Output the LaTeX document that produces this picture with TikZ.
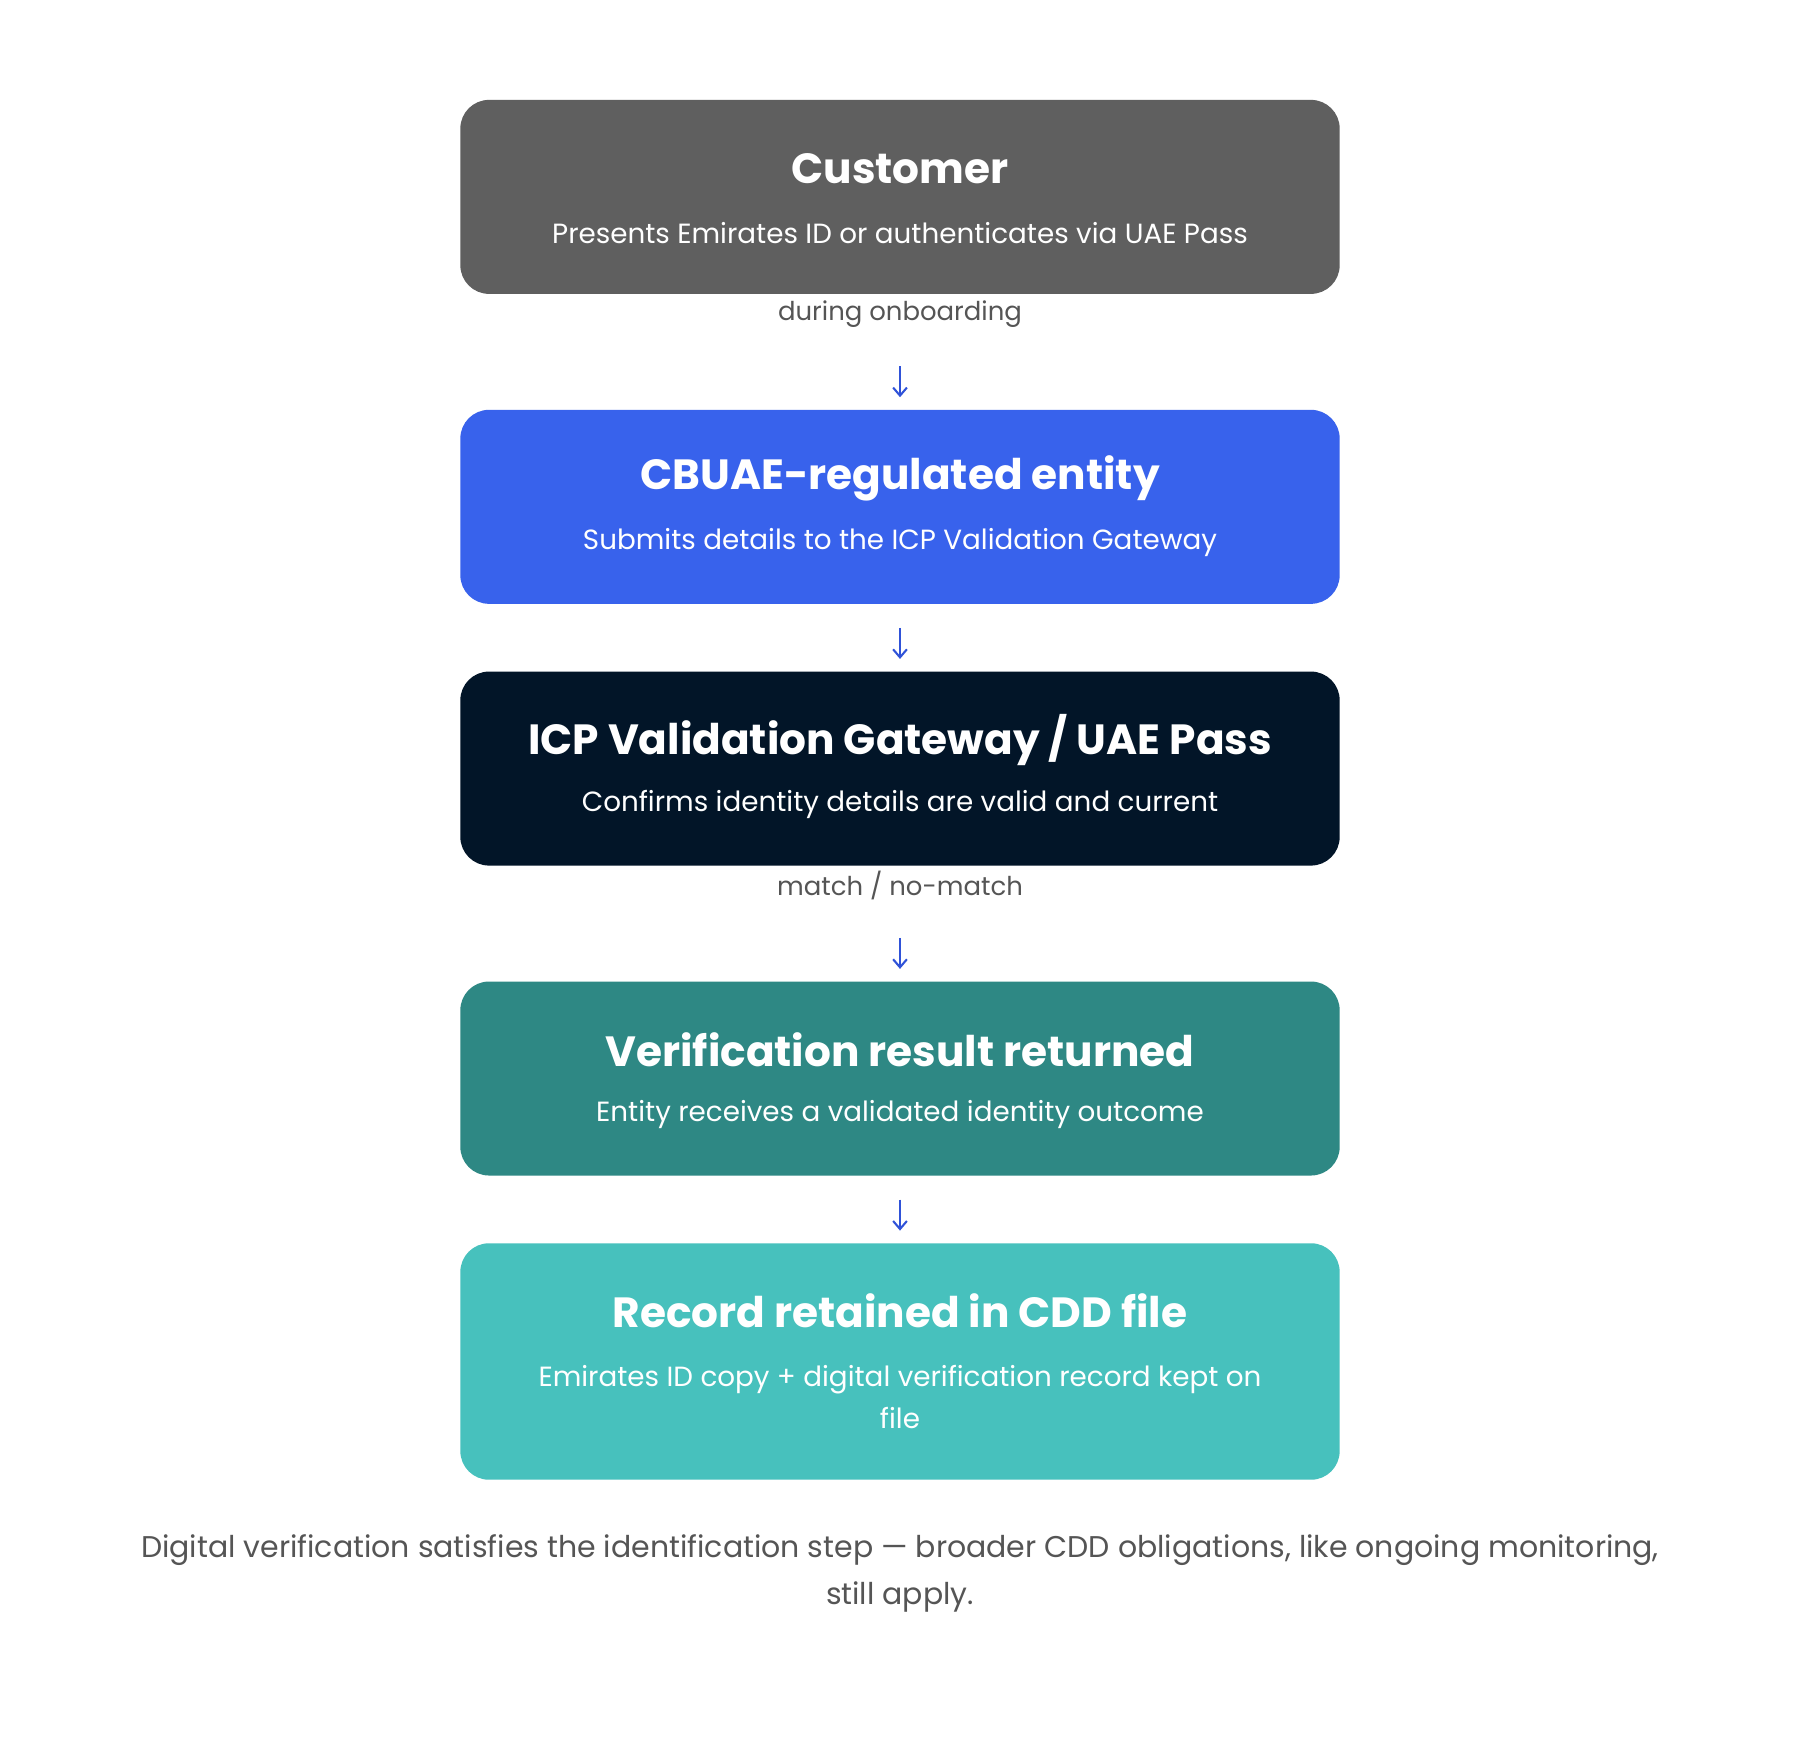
\documentclass[tikz,border=0pt]{standalone}
\usepackage{fontspec}
\setmainfont{Poppins}
\usetikzlibrary{arrows.meta}
\definecolor{cgray}{HTML}{5F5F5F}
\definecolor{cblue}{HTML}{3862EC}
\definecolor{cnavy}{HTML}{021528}
\definecolor{cteal}{HTML}{2E8884}
\definecolor{clteal}{HTML}{47C1BD}
\definecolor{carrow}{HTML}{2F52D8}
\definecolor{ctext}{HTML}{555555}
\begin{document}
\begin{tikzpicture}[x=0.5pt,y=-0.5pt,
 ttl/.style={text=white,font=\fontsize{18.4}{22}\selectfont\bfseries,anchor=center},
 sub/.style={text=white,font=\fontsize{12.1}{18}\selectfont,align=center,anchor=center},
 lbl/.style={text=ctext,font=\fontsize{11.3}{13}\selectfont,anchor=center},
 arr/.style={carrow,line width=0.9pt,-{Straight Barb[length=3.5pt,width=6pt]}}]
\useasboundingbox (0,0) rectangle (1568,1532);
\fill[white] (0,0) rectangle (1568,1532);
\foreach \col/\ya/\yb in {cgray/87/256,cblue/357/526,cnavy/585/754,cteal/855/1024,clteal/1083/1289}
  \fill[\col,rounded corners=12.5pt] (401,\ya) rectangle (1167,\yb);
\node[ttl] (t1) at (784,147) {Customer};
\node[sub] (s1) at (784,203) {Presents Emirates ID or authenticates via UAE Pass};
\node[ttl] (t2) at (784,417) {CBUAE-regulated entity};
\node[sub] (s2) at (784,473) {Submits details to the ICP Validation Gateway};
\node[ttl] (t3) at (784,645) {ICP Validation Gateway / UAE Pass};
\node[sub] (s3) at (784,701) {Confirms identity details are valid and current};
\node[ttl] (t4) at (784,914) {Verification result returned};
\node[sub] (s4) at (784,971) {Entity receives a validated identity outcome};
\node[ttl] (t5) at (784,1142) {Record retained in CDD file};
\node[sub] (s5) at (784,1217) {Emirates ID copy + digital verification record kept on\\file};
\node[lbl] (l1) at (784,274) {during onboarding};
\node[lbl] (l2) at (784,771) {match / no-match};
\coordinate (a1) at (784,319); \coordinate (a1e) at (784,346);
\coordinate (a2) at (784,547); \coordinate (a2e) at (784,574);
\coordinate (a3) at (784,817); \coordinate (a3e) at (784,844);
\coordinate (a4) at (784,1045); \coordinate (a4e) at (784,1072);
\draw[arr] (a1) -- (a1e);
\draw[arr] (a2) -- (a2e);
\draw[arr] (a3) -- (a3e);
\draw[arr] (a4) -- (a4e);
\node[text=ctext,font=\fontsize{13.05}{20.5}\selectfont,align=center,anchor=center] (ft) at (784,1371) {Digital verification satisfies the identification step — broader CDD obligations, like ongoing monitoring,\\still apply.};
\end{tikzpicture}
\end{document}
